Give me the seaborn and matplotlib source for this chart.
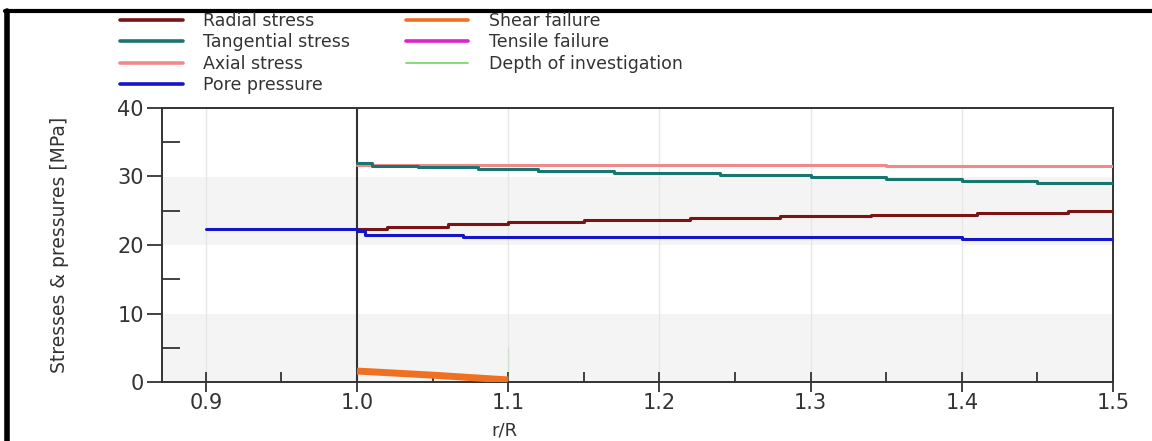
import matplotlib
matplotlib.use("Agg")
import matplotlib.pyplot as plt
from matplotlib.lines import Line2D
import seaborn as sns

sns.set_theme(style="white")
plt.rcParams['font.family'] = ['DejaVu Sans']

# ---- data ----
radial_x = [1.0, 1.02, 1.06, 1.10, 1.15, 1.22, 1.28, 1.34, 1.41, 1.47, 1.5]
radial_y = [22.4, 22.7, 23.0, 23.3, 23.6, 23.9, 24.2, 24.4, 24.7, 25.0, 25.0]
tang_x = [1.0, 1.01, 1.04, 1.08, 1.12, 1.17, 1.24, 1.30, 1.35, 1.40, 1.45, 1.5]
tang_y = [31.9, 31.6, 31.4, 31.1, 30.8, 30.5, 30.2, 29.9, 29.6, 29.4, 29.1, 29.1]
axial_x = [1.0, 1.35, 1.5]
axial_y = [31.7, 31.5, 31.5]
pore_x = [0.9, 1.0, 1.005, 1.07, 1.40, 1.5]
pore_y = [22.4, 22.0, 21.5, 21.2, 20.9, 20.9]
shear_x = [1.0, 1.05, 1.1]
shear_y = [1.6, 1.0, 0.3]
doi_x = [1.1, 1.1]
doi_y = [0.0, 5.0]

labels = ["Radial stress", "Tangential stress", "Axial stress", "Pore pressure",
          "Shear failure", "Tensile failure", "Depth of investigation"]
colors = ["#7a1414", "#17766e", "#f08a8a", "#1414c8", "#f07020", "#e020c8", "#6fd460"]

fig = plt.figure(figsize=(11.52, 4.41), dpi=100)
ax = fig.add_axes([162/1152, 1-382/441, (1113-162)/1152, (382-108)/441])

# background bands
for lo, hi in [(0, 10), (20, 30)]:
    ax.axhspan(lo, hi, color="#f4f4f4", zorder=0, lw=0)
for xv in [0.9, 1.1, 1.2, 1.3, 1.4]:
    ax.axvline(xv, color="#e6e6e6", lw=1, zorder=0.5)
ax.axvline(1.0, color="#333333", lw=1.5, zorder=1)

lw = 2.2
sns.lineplot(x=axial_x, y=axial_y, ax=ax, color=colors[2], lw=lw, drawstyle="steps-post", zorder=3)
sns.lineplot(x=tang_x, y=tang_y, ax=ax, color=colors[1], lw=lw, drawstyle="steps-post", zorder=3)
sns.lineplot(x=radial_x, y=radial_y, ax=ax, color=colors[0], lw=lw, drawstyle="steps-post", zorder=3)
sns.lineplot(x=pore_x, y=pore_y, ax=ax, color=colors[3], lw=lw, drawstyle="steps-post", zorder=3)
sns.lineplot(x=shear_x, y=shear_y, ax=ax, color=colors[4], lw=5, zorder=3, solid_capstyle="butt")
sns.lineplot(x=doi_x, y=doi_y, ax=ax, color=colors[6], lw=1.5, zorder=3)

ax.set_xlim(0.871, 1.5)
ax.set_ylim(0, 40)
ax.set_xticks([0.9, 1.0, 1.1, 1.2, 1.3, 1.4, 1.5])
ax.set_xticklabels(["0.9", "1.0", "1.1", "1.2", "1.3", "1.4", "1.5"])
ax.set_xticks([0.95, 1.05, 1.15, 1.25, 1.35, 1.45], minor=True)
ax.set_yticks([0, 10, 20, 30, 40])
ax.set_yticks([5, 15, 25, 35], minor=True)
ax.tick_params(axis="x", which="major", direction="inout", length=14, width=1.3,
               color="#333333", labelsize=15, labelcolor="#333333", pad=1, bottom=True)
ax.tick_params(axis="x", which="minor", direction="in", length=7, width=1.3, color="#333333", bottom=True)
ax.tick_params(axis="y", which="major", direction="out", length=11, width=1.3,
               color="#333333", labelsize=15, labelcolor="#333333", pad=2, left=True)
ax.tick_params(axis="y", which="minor", direction="in", length=13, width=1.3, color="#333333", left=True)
for s in ax.spines.values():
    s.set_color("#333333")
    s.set_linewidth(1.4)
ax.grid(False)

ax.set_ylabel("Stresses & pressures [MPa]", fontsize=13.5, color="#333333")
ax.yaxis.set_label_coords(-0.098, 0.5)
ax.set_xlabel("r/R", fontsize=13, color="#333333")
ax.xaxis.set_label_coords(0.36, -0.145)

handles = [Line2D([], [], color=c, lw=(1.2 if i == 6 else 2.6)) for i, c in enumerate(colors)]
fig.legend(handles, labels, ncol=2, loc="upper left", bbox_to_anchor=(120/1152, 1-12/441),
           frameon=False, fontsize=12.5, handlelength=3.6, handletextpad=1.2,
           labelspacing=0.2, columnspacing=3.2, borderpad=0, borderaxespad=0,
           labelcolor="#333333")

# figure frame (left and top)
fig.add_artist(Line2D([7/1152, 7/1152], [0, 1-11/441], color="black", lw=4, transform=fig.transFigure))
fig.add_artist(Line2D([5/1152, 1], [1-11/441, 1-11/441], color="black", lw=3, transform=fig.transFigure))

fig.savefig("out.png", dpi=100)
